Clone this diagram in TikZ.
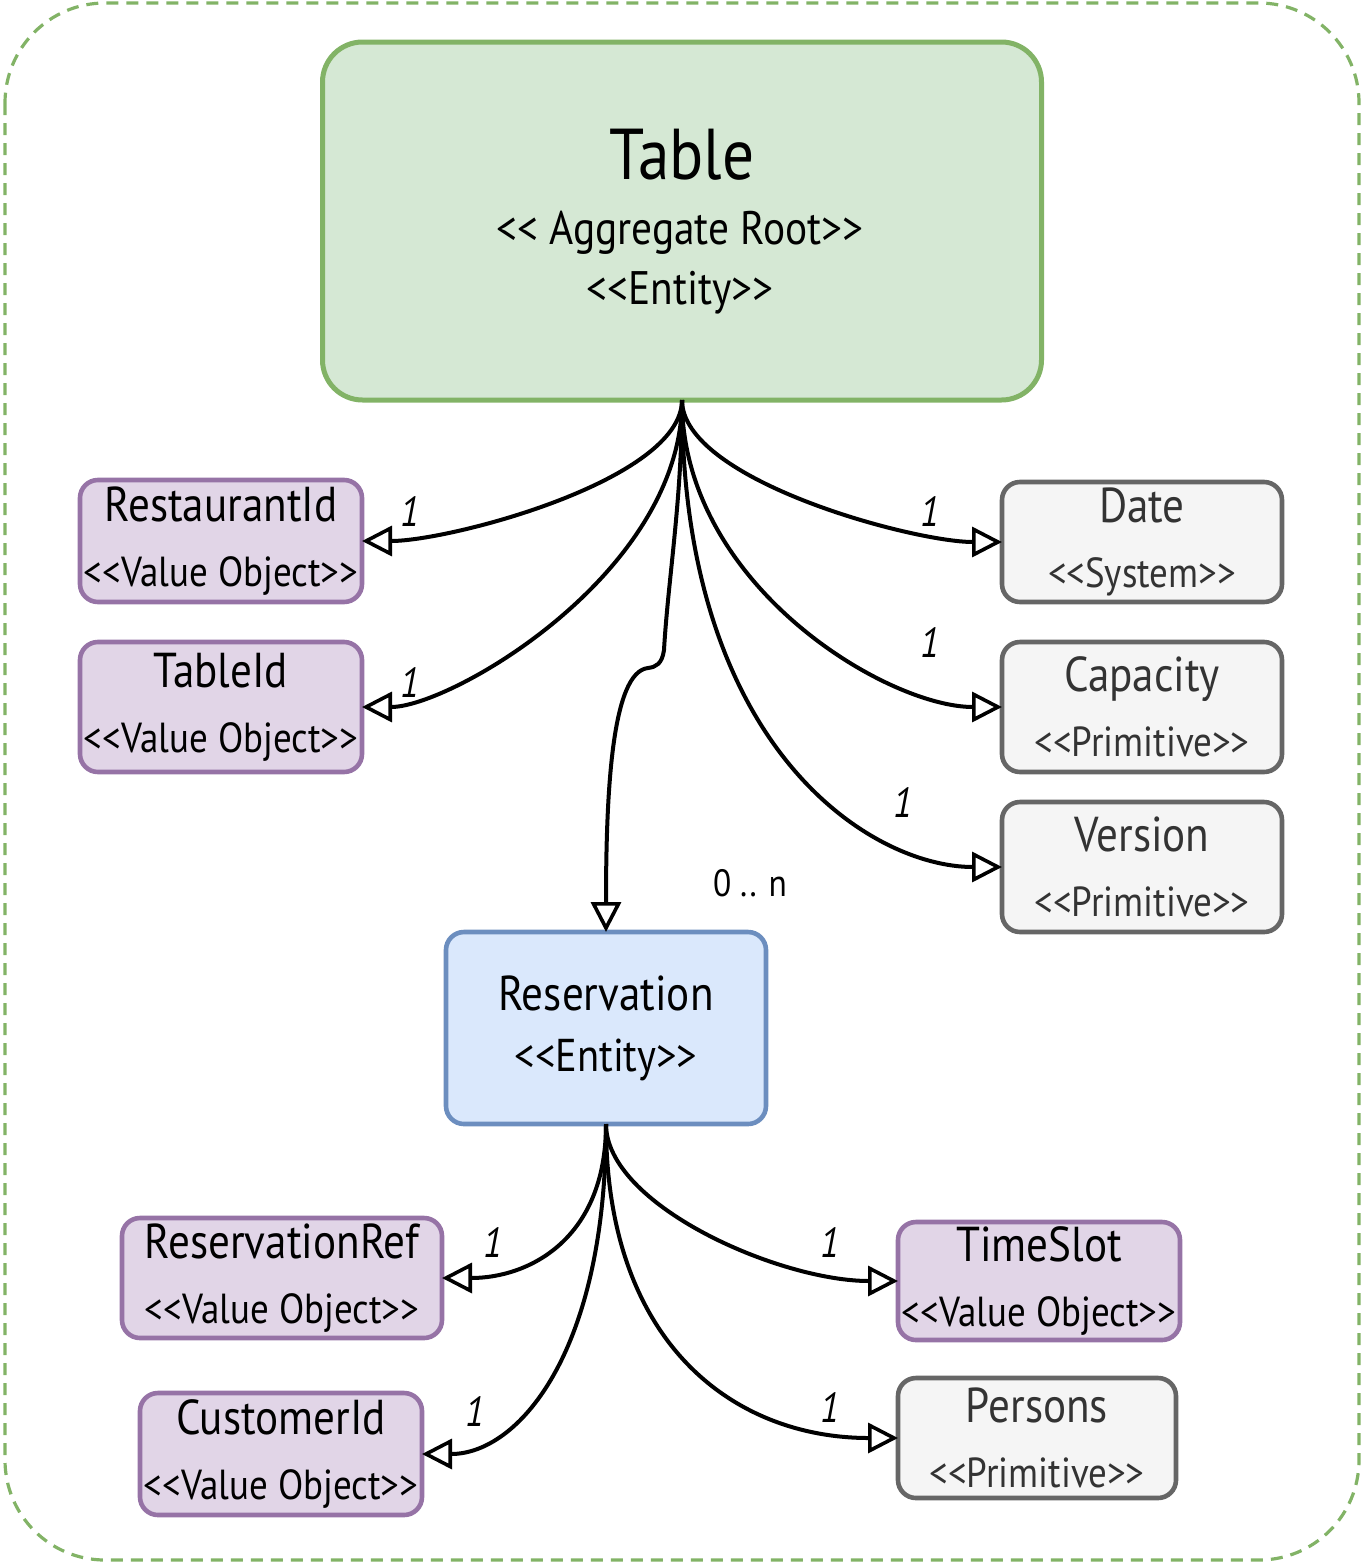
\documentclass[tikz,border=0pt]{standalone}
\usepackage{fontspec}
\setmainfont{PT Sans}[Ligatures=TeXOff, FakeStretch=0.88]
\usetikzlibrary{arrows.meta}
\definecolor{rootfill}{HTML}{D5E8D4}
\definecolor{rootstroke}{HTML}{82B366}
\definecolor{vofill}{HTML}{E1D5E7}
\definecolor{vostroke}{HTML}{9673A6}
\definecolor{sysfill}{HTML}{F5F5F5}
\definecolor{systroke}{HTML}{666666}
\definecolor{systext}{HTML}{333333}
\definecolor{entfill}{HTML}{DAE8FC}
\definecolor{entstroke}{HTML}{6C8EBF}
\newcommand{\bxtitle}[1]{{\fontsize{24.5}{28}\selectfont #1}}
\begin{document}
\begin{tikzpicture}[x=0.5pt,y=-0.5pt,
  every node/.style={inner sep=0pt, outer sep=0pt},
  basebox/.style={rounded corners=9pt, line width=2.3pt, align=center, font=\fontsize{21}{32.5}\selectfont},
  vobox/.style={basebox, draw=vostroke, fill=vofill},
  sysbox/.style={basebox, draw=systroke, fill=sysfill, text=systext},
  entbox/.style={basebox, draw=entstroke, fill=entfill, font=\fontsize{23}{30.5}\selectfont},
  rootbox/.style={rounded corners=20pt, line width=2.5pt, draw=rootstroke, fill=rootfill},
  conn/.style={line width=2pt, -{Triangle[open,length=15pt,width=15pt,line width=1.8pt]}},
  mult/.style={font=\fontsize{21}{24}\selectfont\itshape}
]
\useasboundingbox (0,0) rectangle (1364,1564);
\draw[rootstroke, line width=1.6pt, dash pattern=on 6pt off 4pt, rounded corners=50pt] (5,3) rectangle (1359,1560);

% Aggregate root
\node[rootbox, minimum width=359.5pt, minimum height=179pt] (table) at (682,221) {};
\node[font=\fontsize{36}{40}\selectfont] (tabletitle) at (682,155) {Table};
\node[font=\fontsize{23.5}{26}\selectfont] (tablest1) at (680,233) {<< Aggregate Root>>};
\node[font=\fontsize{23.5}{26}\selectfont] (tablest2) at (680,293) {<<Entity>>};

% left value objects
\node[vobox, minimum width=141pt, minimum height=61pt] (rid) at (221,541) {\bxtitle{RestaurantId}\\<<Value Object>>};
\node[vobox, minimum width=141pt, minimum height=65pt] (tid) at (221,707) {\bxtitle{TableId}\\<<Value Object>>};

% right primitives
\node[sysbox, minimum width=140pt, minimum height=60pt] (date) at (1142,542) {\bxtitle{Date}\\<<System>>};
\node[sysbox, minimum width=140pt, minimum height=65pt] (cap) at (1142,707) {\bxtitle{Capacity}\\<<Primitive>>};
\node[sysbox, minimum width=140pt, minimum height=65pt] (ver) at (1142,867) {\bxtitle{Version}\\<<Primitive>>};

% reservation entity
\node[entbox, minimum width=160pt, minimum height=96pt] (res) at (606,1028) {\bxtitle{Reservation}\\<<Entity>>};

% reservation parts
\node[vobox, minimum width=160pt, minimum height=60pt] (rref) at (282,1278) {\bxtitle{ReservationRef}\\<<Value Object>>};
\node[vobox, minimum width=141pt, minimum height=61pt] (cid) at (281,1454) {\bxtitle{CustomerId}\\<<Value Object>>};
\node[vobox, minimum width=141pt, minimum height=59pt] (ts) at (1039,1281) {\bxtitle{TimeSlot}\\<<Value Object>>};
\node[sysbox, minimum width=139pt, minimum height=60pt] (per) at (1037,1438) {\bxtitle{Persons}\\<<Primitive>>};

% connectors from Table
\draw[conn] (table.south) .. controls (682,480) and (450,541) .. (rid.east);
\draw[conn] (table.south) .. controls (682,573) and (451,707) .. (tid.east);
\draw[conn] (table.south) .. controls (682,480) and (913,542) .. (date.west);
\draw[conn] (table.south) .. controls (682,585) and (887,707) .. (cap.west);
\draw[conn] (table.south) .. controls (682,750) and (872,867) .. (ver.west);
\draw[conn] (table.south) .. controls (682,500) and (668,580) .. (664,650)
  .. controls (662,664) and (656,667) .. (648,668)
  .. controls (612,672) and (606,790) .. (res.north);

% connectors from Reservation
\draw[conn] (res.south) .. controls (606,1240) and (528,1278) .. (rref.east);
\draw[conn] (res.south) .. controls (606,1355) and (517,1454) .. (cid.east);
\draw[conn] (res.south) .. controls (606,1205) and (779,1281) .. (ts.west);
\draw[conn] (res.south) .. controls (606,1346) and (736,1438) .. (per.west);

% multiplicities
\node[mult] (m1) at (410,512) {1};
\node[mult] (m2) at (410,683) {1};
\node[mult] (m3) at (930,512) {1};
\node[mult] (m4) at (930,643) {1};
\node[mult] (m5) at (903,803) {1};
\node[font=\fontsize{19}{22}\selectfont] (m6) at (750,883) {0 .. n};
\node[mult] (m7) at (493,1243) {1};
\node[mult] (m8) at (475,1412) {1};
\node[mult] (m9) at (830,1243) {1};
\node[mult] (m10) at (830,1408) {1};
\end{tikzpicture}
\end{document}
